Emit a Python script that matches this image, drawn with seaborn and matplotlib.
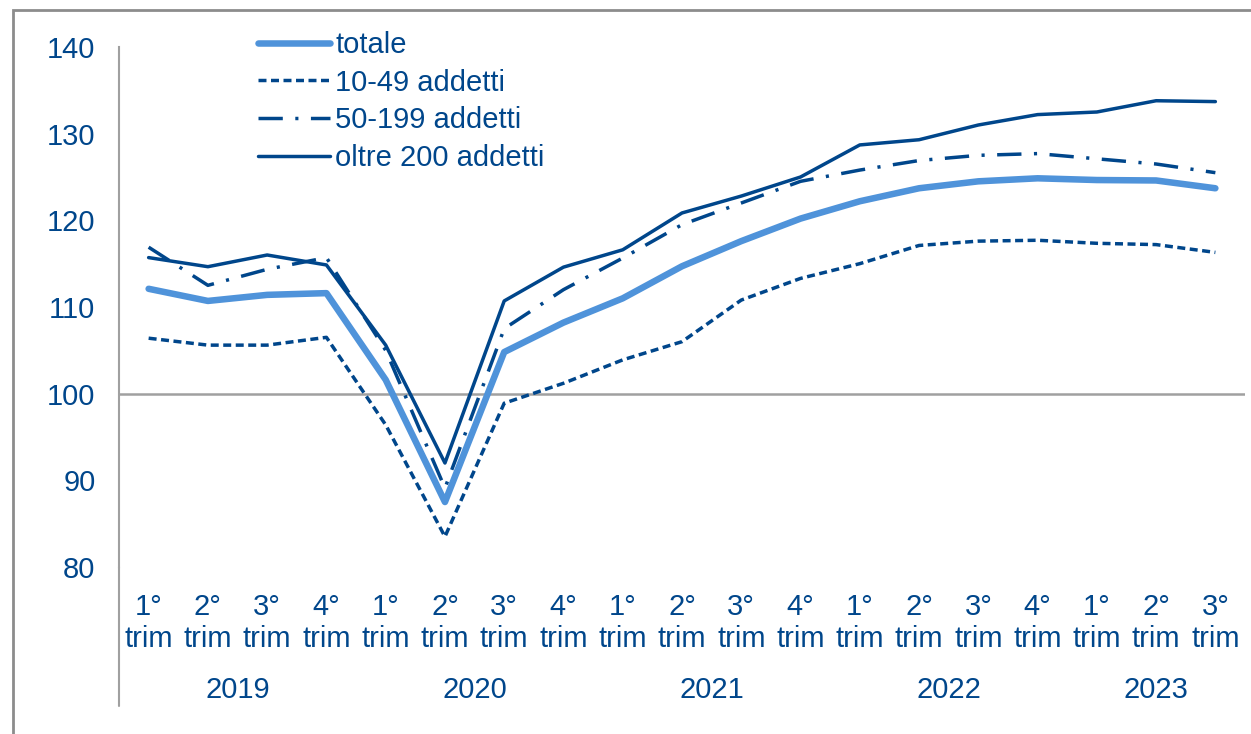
import matplotlib
matplotlib.use("Agg")
import matplotlib.pyplot as plt
import matplotlib.patches as mpatches
import numpy as np
import pandas as pd
import seaborn as sns

# quarterly index values (2019 Q1 .. 2023 Q3)
quarters = ["1°\ntrim", "2°\ntrim", "3°\ntrim", "4°\ntrim"] * 4 + ["1°\ntrim", "2°\ntrim", "3°\ntrim"]
years = ["2019", "2020", "2021", "2022", "2023"]
year_quarters = [4, 4, 4, 4, 3]

totale = [112.1, 110.7, 111.4, 111.6, 101.6, 87.5, 104.8, 108.2, 111.0, 114.7,
          117.6, 120.2, 122.2, 123.7, 124.5, 124.85, 124.65, 124.6, 123.7]
addetti_10_49 = [106.4, 105.6, 105.6, 106.5, 96.4, 83.5, 98.9, 101.2, 103.9, 106.0,
                 110.8, 113.3, 115.0, 117.1, 117.6, 117.7, 117.35, 117.2, 116.3]
addetti_50_199 = [116.9, 112.5, 114.35, 115.7, 105.0, 89.1, 107.5, 112.0, 115.65, 119.5,
                  122.0, 124.5, 125.8, 126.9, 127.5, 127.7, 127.1, 126.5, 125.5]
oltre_200 = [115.7, 114.65, 116.0, 114.85, 105.6, 92.0, 110.7, 114.6, 116.6, 120.85,
             122.8, 125.0, 128.7, 129.3, 131.0, 132.2, 132.5, 133.8, 133.7]

labels = ["totale", "10-49 addetti", "50-199 addetti", "oltre 200 addetti"]

NAVY = "#00468B"
LIGHT = "#4F93DA"
GRAY = "#A0A0A0"
FS = 21

sns.set_theme(style="white")
plt.rcParams["font.family"] = ["Liberation Sans", "DejaVu Sans"]

df = pd.DataFrame({
    "pos": np.arange(len(totale)),
    "totale": totale,
    "10-49 addetti": addetti_10_49,
    "50-199 addetti": addetti_50_199,
    "oltre 200 addetti": oltre_200,
})

fig = plt.figure(figsize=(12.51, 7.34), dpi=100)
ax = fig.add_axes([119 / 1251, 1 - 567 / 734, (1245 - 119) / 1251, (567 - 47) / 734])

styles = {
    "totale": dict(color=LIGHT, linewidth=4.7, linestyle="-"),
    "10-49 addetti": dict(color=NAVY, linewidth=2.5, linestyle=(0, (2.3, 1.3))),
    "50-199 addetti": dict(color=NAVY, linewidth=2.5, linestyle=(0, (7.0, 3.6, 0.9, 3.6))),
    "oltre 200 addetti": dict(color=NAVY, linewidth=2.5, linestyle="-"),
}

ax.axhline(100, color=GRAY, linewidth=1.8, zorder=1)
for name in labels:
    st = styles[name]
    sns.lineplot(data=df, x="pos", y=name, ax=ax, label=name, color=st["color"],
                 linewidth=st["linewidth"], linestyle=st["linestyle"],
                 solid_capstyle="round", dash_capstyle="butt", zorder=3)

ax.set_xlim(-0.5, len(totale) - 0.5)
ax.set_ylim(80, 140)
ax.set_yticks(range(80, 141, 10))
ax.set_xticks(range(len(quarters)))
ax.set_xticklabels(quarters, linespacing=1.15)
ax.tick_params(axis="both", length=0, labelsize=FS, labelcolor=NAVY)
ax.tick_params(axis="y", pad=17)
ax.tick_params(axis="x", pad=19)
ax.set_xlabel("")
ax.set_ylabel("")

for s in ["top", "right", "bottom"]:
    ax.spines[s].set_visible(False)
ax.spines["left"].set_color(GRAY)
ax.spines["left"].set_linewidth(1.5)
ax.plot([0, 0], [0, -0.267], transform=ax.transAxes, color=GRAY,
        linewidth=1.5, clip_on=False)

# year labels centered under each group of quarters
start = 0
for yr, n in zip(years, year_quarters):
    ax.text(start + (n - 1) / 2, -0.236, yr, transform=ax.get_xaxis_transform(),
            ha="center", va="center", fontsize=FS, color=NAVY)
    start += n

leg = ax.legend(loc="upper left", bbox_to_anchor=(258 / 1251, 1 - 31 / 734),
                bbox_transform=fig.transFigure, frameon=False, fontsize=FS,
                handlelength=2.47, handletextpad=0.17, labelspacing=0.33,
                borderpad=0, borderaxespad=0)
for t in leg.get_texts():
    t.set_color(NAVY)

# outer border of the chart area
fig.patches.append(mpatches.Rectangle((13 / 1251, -0.5), 2.0, 0.5 + 1 - 10 / 734,
                                      transform=fig.transFigure, fill=False,
                                      edgecolor="#8C8C8C", linewidth=2))

fig.savefig("out.png", dpi=100)
